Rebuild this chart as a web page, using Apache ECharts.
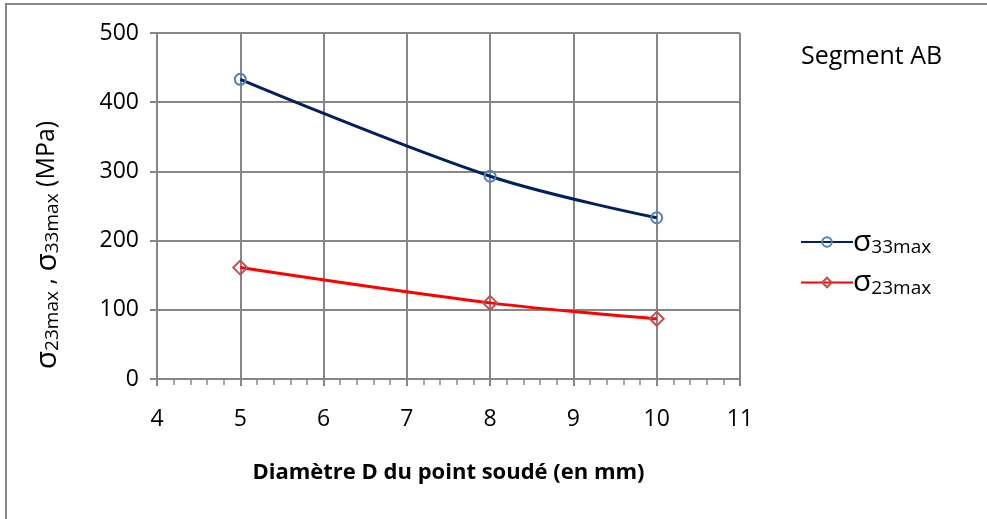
<!DOCTYPE html>
<html>
<head>
<meta charset="utf-8">
<script src="https://cdn.jsdelivr.net/npm/echarts@6/dist/echarts.min.js"></script>
<style>
  html, body { margin: 0; padding: 0; background: #fff; }
  #chart { width: 987px; height: 519px; }
</style>
</head>
<body>
<div id="chart"></div>
<script>
// diametre du point soude (mm)
var diametres = [5, 8, 10];
var sigma33 = [433, 293, 233];
var sigma23 = [161, 110, 87];

var font = '"Open Sans", sans-serif';
var gris = '#868686';

var chart = echarts.init(document.getElementById('chart'));

function pts(ys) {
  return diametres.map(function (d, i) { return [d, ys[i]]; });
}

var rich = {
  s: { fontSize: 30, fontFamily: font, color: '#000' },
  sub: { fontSize: 19, fontFamily: font, color: '#000', verticalAlign: 'bottom', padding: [12, 0, 0, 0] },
  t: { fontSize: 25, fontFamily: font, color: '#000' }
};

var option = {
  backgroundColor: '#fff',
  animation: false,
  graphic: [
    {
      type: 'rect',
      shape: { x: 6, y: 4, width: 1100, height: 700 },
      style: { fill: 'none', stroke: gris, lineWidth: 2 }
    },
    {
      type: 'text',
      left: 801, top: 44,
      style: { text: 'Segment AB', fontSize: 25, fontFamily: font, fill: '#000' }
    },
    {
      type: 'text',
      x: 47, y: 245,
      rotation: Math.PI / 2,
      style: {
        text: '{s|σ}{sub|23max}{t| , }{s|σ}{sub|33max}{t| (MPa)}',
        rich: rich,
        align: 'center',
        verticalAlign: 'middle'
      }
    }
  ],
  grid: { left: 157, right: 247, top: 33, bottom: 140 },
  legend: {
    orient: 'vertical',
    left: 795, top: 222,
    itemGap: 10,
    itemWidth: 52,
    itemHeight: 12,
    data: ['s33', 's23'],
    formatter: function (name) {
      return name === 's33' ? '{s|σ}{sub|33max}' : '{s|σ}{sub|23max}';
    },
    textStyle: { rich: rich, padding: [0, 0, 0, -5] }
  },
  xAxis: {
    type: 'value',
    min: 4, max: 11, interval: 1,
    name: 'Diamètre D du point soudé (en mm)',
    nameLocation: 'middle',
    nameGap: 83,
    nameTextStyle: { fontSize: 22, fontWeight: 'bold', fontFamily: font, color: '#000' },
    axisLine: { lineStyle: { color: gris, width: 2 } },
    axisTick: { show: true, length: 7, lineStyle: { color: gris, width: 2 } },
    minorTick: { show: true, splitNumber: 5, length: 6, lineStyle: { color: gris, width: 1.5 } },
    axisLabel: { fontSize: 23, fontFamily: font, color: '#000', margin: 29 },
    splitLine: { show: true, lineStyle: { color: gris, width: 2 } }
  },
  yAxis: {
    type: 'value',
    min: 0, max: 500, interval: 100,
    axisLine: { show: true, lineStyle: { color: gris, width: 2 } },
    axisTick: { show: true, length: 7, lineStyle: { color: gris, width: 2 } },
    axisLabel: { fontSize: 23, fontFamily: font, color: '#000', margin: 18 },
    splitLine: { show: true, lineStyle: { color: gris, width: 2 } }
  },
  series: [
    {
      name: 's33',
      type: 'line',
      smooth: 0.35,
      data: pts(sigma33),
      symbol: 'circle',
      symbolSize: 11,
      lineStyle: { color: '#002060', width: 3 },
      itemStyle: { color: 'rgba(0,0,0,0)', borderColor: '#4F81BD', borderWidth: 2 }
    },
    {
      name: 's23',
      type: 'line',
      smooth: 0.35,
      data: pts(sigma23),
      symbol: 'diamond',
      symbolSize: 14,
      lineStyle: { color: '#FF0000', width: 3 },
      itemStyle: { color: 'rgba(0,0,0,0)', borderColor: '#C0504D', borderWidth: 2 }
    }
  ]
};

chart.setOption(option);
</script>
</body>
</html>
